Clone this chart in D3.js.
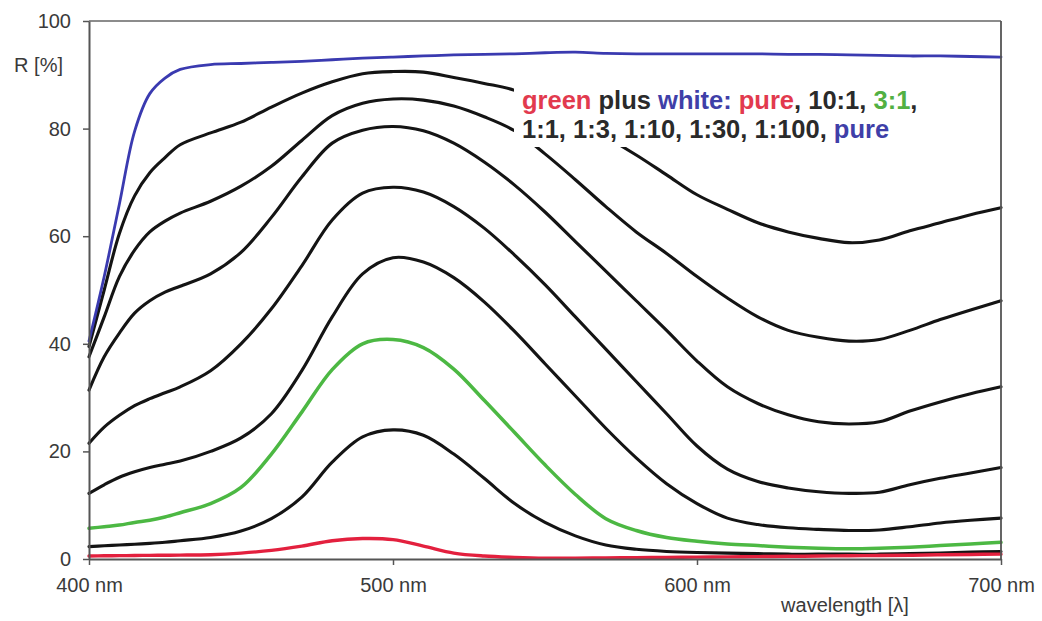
<!DOCTYPE html>
<html>
<head>
<meta charset="utf-8">
<script src="https://cdn.jsdelivr.net/npm/d3@7"></script>
<style>
  html, body { margin: 0; padding: 0; background: #fff; }
  svg { display: block; font-family: Arial, "Liberation Sans", Helvetica, sans-serif; }
</style>
</head>
<body>
<svg id="chart" width="1042" height="621"></svg>
<script>
// ---- data ----
const wavelengths = [400,405,410,415,420,425,430,440,450,460,470,480,490,500,510,520,530,540,550,560,570,580,590,600,610,620,630,640,650,660,670,680,690,700];

const pureGreen = [0.56,0.6,0.62,0.65,0.68,0.7,0.72,0.8,1.1,1.6,2.4,3.4,3.8,3.6,2.4,1.1,0.55,0.3,0.15,0.15,0.2,0.25,0.3,0.35,0.4,0.45,0.5,0.55,0.6,0.65,0.7,0.8,0.85,0.9];
const mix10to1 = [2.3,2.45,2.6,2.75,2.9,3.1,3.4,4.0,5.2,7.5,11.5,18,22.7,24,23,19.5,15,10.3,6.8,4.3,2.6,1.8,1.4,1.2,1.1,1.0,0.9,0.9,0.9,0.9,1.0,1.1,1.3,1.4];
const mix3to1 = [5.7,6,6.3,6.8,7.2,7.8,8.6,10.3,13.3,19.5,27.3,35.2,40,40.8,39.3,35.3,29.5,23.5,17.5,12,7.5,5.3,4,3.3,2.8,2.5,2.2,2.0,1.9,2.0,2.2,2.5,2.8,3.1];
const mix1to1 = [12.2,13.8,15.2,16.2,17,17.6,18.2,20,22.5,27,35,45,53,56,55.2,52.3,47.8,42.3,36.3,30.3,24.3,18.8,14,10.3,7.6,6.4,5.8,5.5,5.3,5.4,6,6.7,7.2,7.6];
const mix1to3 = [21.5,24.5,26.7,28.5,29.8,30.9,32,35,40,46.5,54.5,63,68,69.1,68.2,65.5,61.5,56.5,51,45,39,33,27,21,16.7,14.4,13.2,12.5,12.2,12.4,13.8,15,16,17];
const mix1to10 = [31.4,37.6,42,45.7,48,49.6,50.7,53,57,63.5,71,77.3,79.7,80.4,79.6,77.3,73.8,69.5,64.5,59,53.5,48,42.5,36.8,32,28.9,26.8,25.5,25.1,25.5,27.5,29.2,30.7,32];
const mix1to30 = [37.6,45,52.5,57.4,60.8,62.8,64.3,66.5,69.3,73,77.8,82.4,84.7,85.5,85.3,84.2,82.2,79.6,75.3,70.5,65.5,60.8,56.8,52.5,48.5,45,42.5,41.2,40.5,40.8,42.5,44.5,46.3,48];
const mix1to100 = [39.5,50,60.5,67.5,71.8,74.6,77,79.2,81.2,84,86.6,88.7,90.2,90.6,90.5,89.5,88.4,87.1,84.3,81.3,78.4,75.1,71.4,67.7,65,62.5,60.8,59.6,58.8,59.3,61,62.5,64,65.3];
const pureWhite = [40.5,52.5,66,79.5,86.5,89.4,91,91.9,92.1,92.3,92.5,92.8,93.1,93.3,93.5,93.7,93.8,93.9,94.1,94.2,94.0,93.9,93.9,93.9,93.9,93.9,93.8,93.8,93.7,93.6,93.5,93.5,93.4,93.3];

const yTicks = [0,20,40,60,80,100];
const xTicks = [400,500,600,700];
const xTickLabels = ["400 nm","500 nm","600 nm","700 nm"];

// series drawn bottom-to-top in this order
const seriesList = [
  {name:"10:1",  values: mix10to1,  color:"#141414", width:3.1},
  {name:"1:1",   values: mix1to1,   color:"#141414", width:3.1},
  {name:"1:3",   values: mix1to3,   color:"#141414", width:3.1},
  {name:"1:10",  values: mix1to10,  color:"#141414", width:3.1},
  {name:"1:30",  values: mix1to30,  color:"#141414", width:3.1},
  {name:"1:100", values: mix1to100, color:"#141414", width:3.1},
  {name:"3:1",   values: mix3to1,   color:"#4cb843", width:3.5},
  {name:"pure green", values: pureGreen, color:"#e3203e", width:3.4},
  {name:"pure white", values: pureWhite, color:"#3a3ab0", width:2.8}
];

// ---- layout ----
const svg = d3.select("#chart");
const x = d3.scaleLinear().domain([400,700]).range([89,1001]);
const y = d3.scaleLinear().domain([0,100]).range([559,21]);

const axisColor = "#555";
const textColor = "#3a3a3a";

// lines
const line = d3.line()
  .x((d,i) => x(wavelengths[i]))
  .y(d => y(d))
  .curve(d3.curveCatmullRom.alpha(0.5));

const plot = svg.append("g");
plot.selectAll("path.series")
  .data(seriesList)
  .join("path")
  .attr("class","series")
  .attr("fill","none")
  .attr("stroke", d => d.color)
  .attr("stroke-width", d => d.width)
  .attr("stroke-linejoin","round")
  .attr("stroke-linecap","round")
  .attr("d", d => line(d.values));

// frame (top and right)
svg.append("line").attr("x1",x(400)).attr("x2",x(700)).attr("y1",y(100)).attr("y2",y(100))
  .attr("stroke","#666").attr("stroke-width",1.6);
svg.append("line").attr("x1",x(700)).attr("x2",x(700)).attr("y1",y(100)).attr("y2",y(0))
  .attr("stroke","#555").attr("stroke-width",1.8);

// y axis
const yAxis = svg.append("g")
  .attr("transform",`translate(${x(400)},0)`)
  .call(d3.axisLeft(y).tickValues(yTicks).tickSize(6).tickPadding(12).tickSizeOuter(0));
yAxis.select(".domain").attr("stroke",axisColor).attr("stroke-width",2);
yAxis.selectAll(".tick line").attr("stroke",axisColor).attr("stroke-width",1.5);
yAxis.selectAll(".tick text").attr("fill",textColor).style("font-size","20px").style("font-family","Arial, 'Liberation Sans', sans-serif");

// x axis
const xAxis = svg.append("g")
  .attr("transform",`translate(0,${y(0)})`)
  .call(d3.axisBottom(x).tickValues(xTicks).tickFormat((d,i) => xTickLabels[i]).tickSize(6).tickPadding(13).tickSizeOuter(0));
xAxis.select(".domain").attr("stroke",axisColor).attr("stroke-width",2);
xAxis.selectAll(".tick line").attr("stroke",axisColor).attr("stroke-width",1.5);
xAxis.selectAll(".tick text").attr("fill",textColor).style("font-size","20px").style("font-family","Arial, 'Liberation Sans', sans-serif");

// axis titles
svg.append("text").attr("x",63).attr("y",72).attr("text-anchor","end")
  .attr("fill",textColor).style("font-size","20px").text("R [%]");
svg.append("text").attr("x",845).attr("y",612).attr("text-anchor","middle")
  .attr("fill",textColor).style("font-size","20px").text("wavelength [\u03BB]");

// legend box (white background hides lines beneath)
svg.append("rect").attr("x",514).attr("y",83).attr("width",412).attr("height",64).attr("fill","#fff");

const legend = svg.append("text").attr("x",522).attr("y",109)
  .style("font-size","25.5px").style("font-weight","bold");
const line1 = [
  ["green","#e23a4e"],[" plus ","#2a2a2a"],["white: ","#3f3fa8"],["pure","#e23a4e"],[", 10:1, ","#2a2a2a"],["3:1","#52b043"],[",","#2a2a2a"]
];
line1.forEach(([t,c]) => legend.append("tspan").attr("fill",c).text(t));
const legend2 = svg.append("text").attr("x",522).attr("y",138)
  .style("font-size","25.5px").style("font-weight","bold");
const line2 = [["1:1, 1:3, 1:10, 1:30, 1:100, ","#2a2a2a"],["pure","#3f3fa8"]];
line2.forEach(([t,c]) => legend2.append("tspan").attr("fill",c).text(t));
</script>
</body>
</html>
